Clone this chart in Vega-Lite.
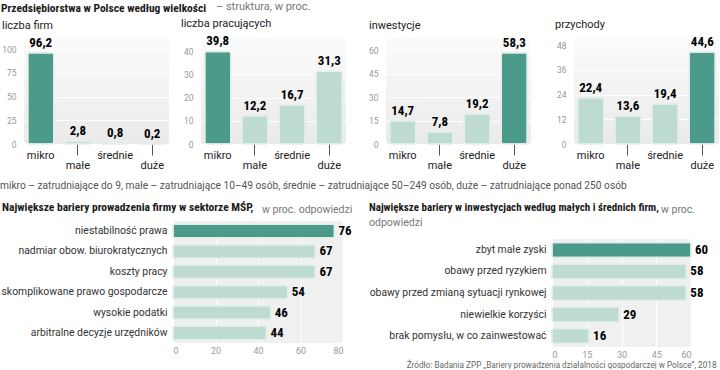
{
  "$schema": "https://vega.github.io/schema/vega-lite/v6.json",
  "padding": {"left": 0, "top": 1, "right": 0, "bottom": 0},
  "title": {
    "text": "Przedsiębiorstwa w Polsce według wielkości",
    "anchor": "start", "frame": "bounds", "offset": 0, "dx": 1, "dy": 13,
    "font": "'Noto Sans Condensed', 'Roboto Condensed', 'Liberation Sans Narrow', Roboto, sans-serif", "fontSize": 11.5, "fontWeight": "bold", "color": "#1a1a1a"
  },
  "datasets": {
    "struktura": [
      {"miara": "liczba firm", "kategoria": "mikro", "wartosc": 96.2},
      {"miara": "liczba firm", "kategoria": "małe", "wartosc": 2.8},
      {"miara": "liczba firm", "kategoria": "średnie", "wartosc": 0.8},
      {"miara": "liczba firm", "kategoria": "duże", "wartosc": 0.2},
      {"miara": "liczba pracujących", "kategoria": "mikro", "wartosc": 39.8},
      {"miara": "liczba pracujących", "kategoria": "małe", "wartosc": 12.2},
      {"miara": "liczba pracujących", "kategoria": "średnie", "wartosc": 16.7},
      {"miara": "liczba pracujących", "kategoria": "duże", "wartosc": 31.3},
      {"miara": "inwestycje", "kategoria": "mikro", "wartosc": 14.7},
      {"miara": "inwestycje", "kategoria": "małe", "wartosc": 7.8},
      {"miara": "inwestycje", "kategoria": "średnie", "wartosc": 19.2},
      {"miara": "inwestycje", "kategoria": "duże", "wartosc": 58.3},
      {"miara": "przychody", "kategoria": "mikro", "wartosc": 22.4},
      {"miara": "przychody", "kategoria": "małe", "wartosc": 13.6},
      {"miara": "przychody", "kategoria": "średnie", "wartosc": 19.4},
      {"miara": "przychody", "kategoria": "duże", "wartosc": 44.6}
    ],
    "bariery_firmy": [
      {"bariera": "niestabilność prawa", "odsetek": 76},
      {"bariera": "nadmiar obow. biurokratycznych", "odsetek": 67},
      {"bariera": "koszty pracy", "odsetek": 67},
      {"bariera": "skomplikowane prawo gospodarcze", "odsetek": 54},
      {"bariera": "wysokie podatki", "odsetek": 46},
      {"bariera": "arbitralne decyzje urzędników", "odsetek": 44}
    ],
    "bariery_inwestycji": [
      {"bariera": "zbyt małe zyski", "odsetek": 60},
      {"bariera": "obawy przed ryzykiem", "odsetek": 58},
      {"bariera": "obawy przed zmianą sytuacji rynkowej", "odsetek": 58},
      {"bariera": "niewielkie korzyści", "odsetek": 29},
      {"bariera": "brak pomysłu, w co zainwestować", "odsetek": 16}
    ],
    "pusty": []
  },
  "spacing": 9,
  "vconcat": [
    {
      "title": {"text": "– struktura, w proc.", "anchor": "start", "frame": "bounds", "dx": 216, "offset": 6, "font": "Roboto", "fontSize": 11, "color": "#777"},
      "spacing": 0,
      "hconcat": [
        {"width": 1, "height": 1, "data": {"name": "pusty"}, "mark": {"type": "point", "opacity": 0}, "encoding": {}},
        {
          "spacing": 12,
          "hconcat": [
            {
              "width": 145, "height": 106,
              "title": {"text": "liczba firm", "dx": -22},
              "data": {"name": "struktura"},
              "transform": [{"filter": "datum.miara === 'liczba firm'"}, {"joinaggregate": [{"op": "max", "field": "wartosc", "as": "maks"}]}],
              "view": {"fill": {"gradient": "linear", "x1": 0, "y1": 0, "x2": 0, "y2": 1, "stops": [{"offset": 0, "color": "#fbfbfb"}, {"offset": 1, "color": "#eaeaea"}]}, "stroke": null, "cornerRadius": 3},
              "encoding": {
                "x": {"field": "kategoria", "type": "nominal", "sort": null, "scale": {"paddingInner": 0.3, "paddingOuter": 0.1},
                  "axis": {"title": null, "domain": false, "ticks": true, "tickSize": 11, "tickColor": "#555", "tickWidth": 1, "tickOpacity": {"condition": {"test": "datum.value === 'małe' || datum.value === 'duże'", "value": 1}, "value": 0}, "labelExpr": "(datum.value === 'małe' || datum.value === 'duże') ? ['', datum.value] : datum.value", "labelLineHeight": 10.5, "labelPadding": -6, "labelAngle": 0, "labelFont": "Roboto", "labelFontSize": 11, "labelColor": "#222", "labelOverlap": false, "labelBaseline": "top"}},
                "y": {"field": "wartosc", "type": "quantitative", "scale": {"domain": [0, 111.6], "nice": false},
                  "axis": {"title": null, "domain": false, "ticks": false, "grid": true, "gridColor": "#ffffff", "gridWidth": 1, "labelFont": "Roboto", "labelFontSize": 8.5, "labelColor": "#999", "labelPadding": 8, "values": [0, 25, 50, 75, 100], "minExtent": 22, "maxExtent": 22}}
              },
              "layer": [
                {"mark": {"type": "bar", "cornerRadius": 2, "stroke": "#e1eeea", "strokeWidth": 1.5}, "encoding": {"color": {"condition": {"test": "datum.wartosc === datum.maks", "value": "#4b9a8a"}, "value": "#bedbd2"}}},
                {"mark": {"type": "text", "style": "etykieta", "baseline": "bottom", "dy": -3}, "encoding": {"text": {"field": "wartosc", "type": "quantitative", "format": ".1f"}}}
              ]
            },
            {
              "width": 145, "height": 106,
              "title": {"text": "liczba pracujących", "dx": -20},
              "data": {"name": "struktura"},
              "transform": [{"filter": "datum.miara === 'liczba pracujących'"}, {"joinaggregate": [{"op": "max", "field": "wartosc", "as": "maks"}]}],
              "view": {"fill": {"gradient": "linear", "x1": 0, "y1": 0, "x2": 0, "y2": 1, "stops": [{"offset": 0, "color": "#fbfbfb"}, {"offset": 1, "color": "#eaeaea"}]}, "stroke": null, "cornerRadius": 3},
              "encoding": {
                "x": {"field": "kategoria", "type": "nominal", "sort": null, "scale": {"paddingInner": 0.3, "paddingOuter": 0.1},
                  "axis": {"title": null, "domain": false, "ticks": true, "tickSize": 11, "tickColor": "#555", "tickWidth": 1, "tickOpacity": {"condition": {"test": "datum.value === 'małe' || datum.value === 'duże'", "value": 1}, "value": 0}, "labelExpr": "(datum.value === 'małe' || datum.value === 'duże') ? ['', datum.value] : datum.value", "labelLineHeight": 10.5, "labelPadding": -6, "labelAngle": 0, "labelFont": "Roboto", "labelFontSize": 11, "labelColor": "#222", "labelOverlap": false, "labelBaseline": "top"}},
                "y": {"field": "wartosc", "type": "quantitative", "scale": {"domain": [0, 45.6], "nice": false},
                  "axis": {"title": null, "domain": false, "ticks": false, "grid": true, "gridColor": "#ffffff", "gridWidth": 1, "labelFont": "Roboto", "labelFontSize": 8.5, "labelColor": "#999", "labelPadding": 8, "values": [0, 10, 20, 30, 40], "minExtent": 20, "maxExtent": 20}}
              },
              "layer": [
                {"mark": {"type": "bar", "cornerRadius": 2, "stroke": "#e1eeea", "strokeWidth": 1.5}, "encoding": {"color": {"condition": {"test": "datum.wartosc === datum.maks", "value": "#4b9a8a"}, "value": "#bedbd2"}}},
                {"mark": {"type": "text", "style": "etykieta", "baseline": "bottom", "dy": -3}, "encoding": {"text": {"field": "wartosc", "type": "quantitative", "format": ".1f"}}}
              ]
            },
            {
              "width": 145, "height": 106,
              "title": {"text": "inwestycje", "dx": -17},
              "data": {"name": "struktura"},
              "transform": [{"filter": "datum.miara === 'inwestycje'"}, {"joinaggregate": [{"op": "max", "field": "wartosc", "as": "maks"}]}],
              "view": {"fill": {"gradient": "linear", "x1": 0, "y1": 0, "x2": 0, "y2": 1, "stops": [{"offset": 0, "color": "#fbfbfb"}, {"offset": 1, "color": "#eaeaea"}]}, "stroke": null, "cornerRadius": 3},
              "encoding": {
                "x": {"field": "kategoria", "type": "nominal", "sort": null, "scale": {"paddingInner": 0.3, "paddingOuter": 0.1},
                  "axis": {"title": null, "domain": false, "ticks": true, "tickSize": 11, "tickColor": "#555", "tickWidth": 1, "tickOpacity": {"condition": {"test": "datum.value === 'małe' || datum.value === 'duże'", "value": 1}, "value": 0}, "labelExpr": "(datum.value === 'małe' || datum.value === 'duże') ? ['', datum.value] : datum.value", "labelLineHeight": 10.5, "labelPadding": -6, "labelAngle": 0, "labelFont": "Roboto", "labelFontSize": 11, "labelColor": "#222", "labelOverlap": false, "labelBaseline": "top"}},
                "y": {"field": "wartosc", "type": "quantitative", "scale": {"domain": [0, 67.7], "nice": false},
                  "axis": {"title": null, "domain": false, "ticks": false, "grid": true, "gridColor": "#ffffff", "gridWidth": 1, "labelFont": "Roboto", "labelFontSize": 8.5, "labelColor": "#999", "labelPadding": 8, "values": [0, 15, 30, 45, 60], "minExtent": 28, "maxExtent": 28}}
              },
              "layer": [
                {"mark": {"type": "bar", "cornerRadius": 2, "stroke": "#e1eeea", "strokeWidth": 1.5}, "encoding": {"color": {"condition": {"test": "datum.wartosc === datum.maks", "value": "#4b9a8a"}, "value": "#bedbd2"}}},
                {"mark": {"type": "text", "style": "etykieta", "baseline": "bottom", "dy": -3}, "encoding": {"text": {"field": "wartosc", "type": "quantitative", "format": ".1f"}}}
              ]
            },
            {
              "width": 145, "height": 106,
              "title": {"text": "przychody", "dx": -19},
              "data": {"name": "struktura"},
              "transform": [{"filter": "datum.miara === 'przychody'"}, {"joinaggregate": [{"op": "max", "field": "wartosc", "as": "maks"}]}],
              "view": {"fill": {"gradient": "linear", "x1": 0, "y1": 0, "x2": 0, "y2": 1, "stops": [{"offset": 0, "color": "#fbfbfb"}, {"offset": 1, "color": "#eaeaea"}]}, "stroke": null, "cornerRadius": 3},
              "encoding": {
                "x": {"field": "kategoria", "type": "nominal", "sort": null, "scale": {"paddingInner": 0.3, "paddingOuter": 0.1},
                  "axis": {"title": null, "domain": false, "ticks": true, "tickSize": 11, "tickColor": "#555", "tickWidth": 1, "tickOpacity": {"condition": {"test": "datum.value === 'małe' || datum.value === 'duże'", "value": 1}, "value": 0}, "labelExpr": "(datum.value === 'małe' || datum.value === 'duże') ? ['', datum.value] : datum.value", "labelLineHeight": 10.5, "labelPadding": -6, "labelAngle": 0, "labelFont": "Roboto", "labelFontSize": 11, "labelColor": "#222", "labelOverlap": false, "labelBaseline": "top"}},
                "y": {"field": "wartosc", "type": "quantitative", "scale": {"domain": [0, 51.4], "nice": false},
                  "axis": {"title": null, "domain": false, "ticks": false, "grid": true, "gridColor": "#ffffff", "gridWidth": 1, "labelFont": "Roboto", "labelFontSize": 8.5, "labelColor": "#999", "labelPadding": 8, "values": [0, 12, 24, 36, 48], "minExtent": 31, "maxExtent": 31}}
              },
              "layer": [
                {"mark": {"type": "bar", "cornerRadius": 2, "stroke": "#e1eeea", "strokeWidth": 1.5}, "encoding": {"color": {"condition": {"test": "datum.wartosc === datum.maks", "value": "#4b9a8a"}, "value": "#bedbd2"}}},
                {"mark": {"type": "text", "style": "etykieta", "baseline": "bottom", "dy": -3}, "encoding": {"text": {"field": "wartosc", "type": "quantitative", "format": ".1f"}}}
              ]
            }
          ]
        }
      ]
    },
    {
      "title": {
        "text": "mikro – zatrudniające do 9, małe – zatrudniające 10–49 osób, średnie – zatrudniające 50–249 osób, duże – zatrudniające ponad 250 osób",
        "anchor": "start", "frame": "bounds", "dx": 0, "offset": 10,
        "font": "Roboto", "fontSize": 10.2, "fontWeight": "normal", "color": "#555"
      },
      "spacing": 0,
      "hconcat": [
        {"width": 1, "height": 1, "data": {"name": "pusty"}, "mark": {"type": "point", "opacity": 0}, "encoding": {}},
        {
          "spacing": 16,
          "hconcat": [
            {
              "title": {"text": "w proc. odpowiedzi", "anchor": "start", "frame": "bounds", "dx": 261, "dy": 14, "offset": 0, "font": "Roboto", "fontSize": 10.5, "color": "#777"},
              "spacing": 7,
              "vconcat": [
                {
                  "width": 170, "height": 1,
                  "data": {"name": "pusty"},
                  "mark": {"type": "point", "opacity": 0},
                  "encoding": {},
                  "title": {"text": "Największe bariery prowadzenia firmy w sektorze MŚP,", "orient": "bottom", "anchor": "start", "frame": "group", "dx": -171, "offset": 0,
                    "font": "'Noto Sans Condensed', 'Roboto Condensed', 'Liberation Sans Narrow', Roboto, sans-serif", "fontSize": 11.5, "fontWeight": "bold", "color": "#1a1a1a"}
                },
                {
                  "width": 170, "height": 122,
                  "data": {"name": "bariery_firmy"},
                  "transform": [{"joinaggregate": [{"op": "max", "field": "odsetek", "as": "maks"}]}],
                  "view": {"fill": "#f0f0f0", "stroke": null, "cornerRadius": 3},
                  "encoding": {
                    "y": {"field": "bariera", "type": "nominal", "sort": null, "scale": {"paddingInner": 0.34, "paddingOuter": 0.16},
                      "axis": {"title": null, "domain": false, "ticks": false, "labelPadding": 6, "labelFont": "Roboto", "labelFontSize": 10.4, "labelColor": "#333", "labelLimit": 300, "minExtent": 172, "maxExtent": 172}},
                    "x": {"field": "odsetek", "type": "quantitative", "scale": {"domain": [0, 80], "nice": false},
                      "axis": {"title": null, "domain": false, "ticks": false, "grid": true, "gridColor": "#ffffff", "labelFont": "Roboto", "labelFontSize": 9, "labelColor": "#999", "labelPadding": 3, "values": [0, 20, 40, 60, 80]}}
                  },
                  "layer": [
                    {"mark": {"type": "bar", "cornerRadius": 2, "stroke": "#e1eeea", "strokeWidth": 1.5}, "encoding": {"color": {"condition": {"test": "datum.odsetek === datum.maks", "value": "#4b9a8a"}, "value": "#bedbd2"}}},
                    {"mark": {"type": "text", "style": "etykieta", "align": "left", "baseline": "middle", "dx": 4}, "encoding": {"text": {"field": "odsetek", "type": "quantitative", "format": "d"}}}
                  ]
                }
              ]
            },
            {
              "title": {"text": "w proc.", "anchor": "start", "frame": "bounds", "dx": 292, "dy": 14, "offset": 0, "font": "Roboto", "fontSize": 10.5, "color": "#777"},
              "spacing": 10,
              "vconcat": [
                {
                  "width": 139, "height": 1,
                  "data": {"name": "pusty"},
                  "mark": {"type": "point", "opacity": 0},
                  "encoding": {},
                  "title": {"text": "Największe bariery w inwestycjach według małych i średnich firm,", "subtitle": "odpowiedzi", "orient": "bottom", "anchor": "start", "frame": "group", "dx": -183, "offset": 0,
                    "font": "'Noto Sans Condensed', 'Roboto Condensed', 'Liberation Sans Narrow', Roboto, sans-serif", "fontSize": 11, "fontWeight": "bold", "color": "#1a1a1a",
                    "subtitleFont": "Roboto", "subtitleFontSize": 10.5, "subtitleColor": "#777", "subtitlePadding": 5}
                },
                {
                  "width": 139, "height": 108,
                  "data": {"name": "bariery_inwestycji"},
                  "transform": [{"joinaggregate": [{"op": "max", "field": "odsetek", "as": "maks"}]}],
                  "view": {"fill": "#f0f0f0", "stroke": null, "cornerRadius": 3},
                  "encoding": {
                    "y": {"field": "bariera", "type": "nominal", "sort": null, "scale": {"paddingInner": 0.3, "paddingOuter": 0.16},
                      "axis": {"title": null, "domain": false, "ticks": false, "labelPadding": 6, "labelFont": "Roboto", "labelFontSize": 10.4, "labelColor": "#333", "labelLimit": 300, "minExtent": 183, "maxExtent": 183}},
                    "x": {"field": "odsetek", "type": "quantitative", "scale": {"domain": [0, 60], "nice": false},
                      "axis": {"domain": false, "ticks": false, "grid": true, "gridColor": "#ffffff", "labelFont": "Roboto", "labelFontSize": 9, "labelColor": "#999", "labelPadding": 3, "values": [0, 15, 30, 45, 60],
                        "title": "Źródło: Badania ZPP „Bariery prowadzenia działalności gospodarczej w Polsce”, 2018",
                        "titleFont": "Roboto", "titleFontSize": 8.2, "titleFontWeight": "normal", "titleColor": "#666", "titleAnchor": "end", "titleAlign": "right", "titleX": 164, "titlePadding": 2}}
                  },
                  "layer": [
                    {"mark": {"type": "bar", "cornerRadius": 2, "stroke": "#e1eeea", "strokeWidth": 1.5}, "encoding": {"color": {"condition": {"test": "datum.odsetek === datum.maks", "value": "#4b9a8a"}, "value": "#bedbd2"}}},
                    {"mark": {"type": "text", "style": "etykieta", "align": "left", "baseline": "middle", "dx": 4}, "encoding": {"text": {"field": "odsetek", "type": "quantitative", "format": "d"}}}
                  ]
                }
              ]
            }
          ]
        }
      ]
    }
  ],
  "config": {
    "view": {"stroke": null},
    "locale": {"number": {"decimal": ",", "thousands": " ", "grouping": [3], "currency": ["", " zł"]}},
    "title": {"anchor": "start", "frame": "group", "font": "Roboto", "fontSize": 11, "fontWeight": "normal", "color": "#222", "offset": 6},
    "style": {
      "etykieta": {"font": "'Noto Sans Condensed', 'Roboto Condensed', 'Liberation Sans Narrow', Roboto, sans-serif", "fontWeight": "bold", "fontSize": 13, "fill": "#1a1a1a"}
    }
  }
}
